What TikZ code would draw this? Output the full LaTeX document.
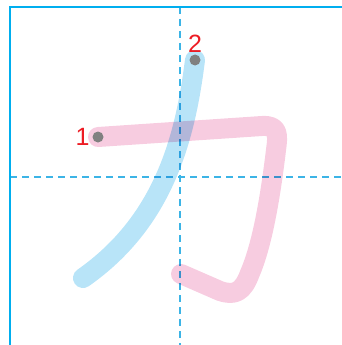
\documentclass[tikz,border=0pt]{standalone}
\usepackage{fontspec}
\setmainfont{Liberation Sans}
\usetikzlibrary{positioning}
\definecolor{gridblue}{RGB}{0,174,239}
\definecolor{dashblue}{RGB}{60,180,230}
\definecolor{pinkstroke}{RGB}{247,204,224}
\definecolor{bluestroke}{RGB}{184,228,248}
\definecolor{numred}{RGB}{237,28,36}
\definecolor{dotgray}{RGB}{128,128,128}

\begin{document}
\begin{tikzpicture}[x=1pt, y=-1pt,
  kana/.style={line width=20pt, line cap=round, line join=round, blend mode=multiply},
  guide/.style={dashblue, line width=1.2pt, dash pattern=on 7pt off 5pt},
  startdot/.style={circle, fill=dotgray, minimum size=11pt, inner sep=0pt},
  num/.style={text=numred, inner sep=0pt, font=\fontsize{25}{25}\selectfont}]
\useasboundingbox (0,0) rectangle (342,345);
% grid
\coordinate (tl) at (10,7);
\coordinate (vtop) at (180,7);
\coordinate (vbot) at (180,345);
\coordinate (hleft) at (10,177);
\coordinate (hright) at (342,177);
\draw[guide] (vtop) -- (vbot);
\draw[guide] (hleft) -- (hright);
\draw[gridblue, line width=2pt] (10,345) -- (tl) -- (342,7);
% strokes
\coordinate (p0) at (98,137);
\coordinate (p1) at (262,126);
\coordinate (p2) at (276,150);
\coordinate (p3) at (250,273);
\coordinate (p4) at (220,291);
\coordinate (p5) at (181,274);
\coordinate (b0) at (195,60);
\coordinate (b1) at (83,278);
\draw[kana, pinkstroke] (p0) -- (p1) .. controls (279,125) and (278,135) .. (p2)
  .. controls (270,200) and (262,245) .. (p3) .. controls (243,292) and (235,296) .. (p4) -- (p5);
\draw[kana, bluestroke] (b0) .. controls (185,140) and (163,222) .. (b1);
% start points
\node[startdot] (dot1) at (p0) {};
\node[startdot] (dot2) at (b0) {};
\node[num, above=2pt of dot2] (n2) {2};
\node[num, left=2.5pt of dot1] (n1) {1};
\end{tikzpicture}
\end{document}
